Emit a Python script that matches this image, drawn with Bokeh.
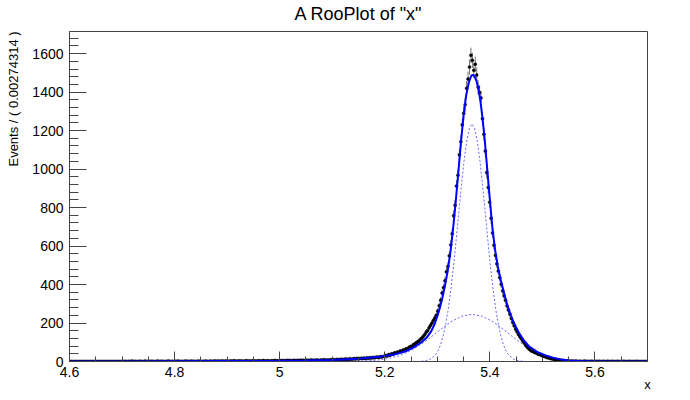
import numpy as np
from bokeh.plotting import figure
from bokeh.models import (Range1d, FixedTicker, SingleIntervalTicker, LinearAxis,
                          ColumnDataSource)
from bokeh.embed import file_html
from bokeh.resources import INLINE

# ---------------- data ----------------
x_low, x_high = 4.6, 5.7
bin_width = 0.00274314
y_max = 1715

counts = (
    [0] * 37
    + [0, 1, 0, 0, 1, 0, 2, 0, 1, 0, 0, 1, 1, 0, 0, 2, 0, 1, 0, 1,
       1, 0, 0, 1, 2, 0, 1, 1, 0, 0, 1, 2, 1, 0, 1, 0, 1, 1, 2, 0,
       1, 0, 1, 2, 1, 1, 0, 2, 1, 1, 0, 1, 2, 1, 0, 1, 1, 2, 1, 0,
       2, 1, 1, 2]
    + [2, 1, 3, 1, 2, 2, 1, 3, 2, 1, 3, 2, 2, 4, 1, 2, 3, 2, 3, 1,
       2, 4, 3, 2, 3, 2, 4, 3, 2, 3, 4, 3, 2, 5, 3, 3, 4, 2, 3, 4,
       3, 5, 4, 3, 4]
    + [4, 5, 3, 5, 4, 6, 4, 5, 3, 6, 5, 4, 6, 5, 7, 5, 6, 4, 7, 6,
       5, 8, 6, 7, 6, 8, 7, 5, 8, 7, 9, 7, 8, 6, 9, 8, 10]
    + [9, 8, 11, 9, 10, 12, 10, 11, 13, 12, 11, 14, 12, 13, 15, 13, 16, 14, 15, 17,
       16, 18, 15, 19, 17, 20, 18, 21, 19, 22, 24, 21, 25, 23, 26, 27]
    + [31, 29, 36, 33, 40, 38, 45, 43, 49, 48, 55, 53, 60, 59, 66, 65, 73, 78, 76, 87,
       91, 97, 102, 107, 116, 122, 131, 140, 153, 161, 176, 188, 200, 214, 226, 240]
    + [262, 290, 318, 356, 384, 420, 466, 494, 549, 606, 664, 758, 812, 912, 968, 1074,
       1142, 1230, 1290, 1335, 1420, 1468, 1530, 1591, 1565, 1513, 1545, 1489, 1425, 1398,
       1370, 1262, 1181, 1094, 982, 904, 828, 745, 668, 604, 552, 508, 470, 436, 402, 368]
    + [342, 318, 290, 268, 247, 224, 204, 186, 168, 155, 140, 128, 118, 106, 96, 84,
       76, 67, 61, 55, 53, 47, 45, 41, 37, 36, 31, 29, 26, 24, 20, 19, 16, 14, 13, 11,
       10, 8, 7, 7, 5, 5, 4, 3, 3]
    + [2, 1, 2, 1, 1, 2, 0, 1, 1, 0, 1, 2, 0, 1, 0, 1, 1, 0, 0, 1,
       0, 1, 0, 0, 1, 0, 0, 1, 0, 0, 1, 0, 0, 0, 1, 0, 0, 0, 1, 0,
       0, 0, 1, 0, 0, 0, 0, 1, 0, 0, 0, 0, 0, 0, 0]
)

total_x = [4.60, 4.70, 4.80, 4.90, 5.00, 5.05, 5.10, 5.15, 5.19, 5.22, 5.24, 5.256,
           5.27, 5.28, 5.288, 5.295, 5.30, 5.305, 5.31, 5.315, 5.32, 5.325, 5.33, 5.335,
           5.34, 5.345, 5.35, 5.355, 5.36, 5.364, 5.367, 5.37, 5.374, 5.378, 5.382,
           5.386, 5.39, 5.395, 5.40, 5.405, 5.41, 5.415, 5.421, 5.428, 5.434, 5.44,
           5.445, 5.455, 5.465, 5.475, 5.49, 5.505, 5.52, 5.535, 5.55, 5.57, 5.60,
           5.65, 5.70]
total_y = [0.3, 0.5, 1, 2, 3.5, 5, 8, 14, 25, 38, 53, 75,
           100, 125, 155, 195, 235, 280, 335, 400, 475, 570, 690, 830,
           985, 1140, 1280, 1385, 1450, 1482, 1490, 1486, 1462, 1420, 1355,
           1265, 1160, 1000, 840, 690, 580, 495, 420, 345, 285, 240,
           205, 150, 108, 78, 50, 33, 20, 11, 5, 2, 0.5,
           0.1, 0]

narrow_x = [4.60, 5.246, 5.256, 5.266, 5.276, 5.286, 5.296, 5.301, 5.306, 5.311, 5.316,
            5.321, 5.326, 5.331, 5.336, 5.341, 5.346, 5.351, 5.356, 5.361, 5.366,
            5.371, 5.376, 5.381, 5.386, 5.391, 5.396, 5.401, 5.406, 5.411, 5.416,
            5.421, 5.426, 5.431, 5.436, 5.446, 5.456, 5.466, 5.476, 5.486, 5.70]
narrow_y = [0, 0.03, 0.16, 0.75, 3.1, 10.9, 33, 54, 86, 132, 194,
            276, 378, 499, 635, 779, 918, 1045, 1147, 1212, 1235,
            1212, 1147, 1045, 918, 779, 635, 499, 378, 276, 194,
            132, 86, 54, 33, 10.9, 3.1, 0.75, 0.16, 0.03, 0]

wide_x = [4.60, 5.046, 5.086, 5.126, 5.166, 5.186, 5.206, 5.226, 5.246, 5.266, 5.286,
          5.306, 5.326, 5.346, 5.366, 5.386, 5.406, 5.426, 5.446, 5.466, 5.486, 5.506,
          5.526, 5.546, 5.566, 5.606, 5.646, 5.70]
wide_y = [0, 0.004, 0.05, 0.48, 3.2, 7.4, 15.4, 29, 52, 83, 123,
          166, 206, 235, 245, 235, 206, 166, 123, 83, 52, 29,
          15.4, 7.4, 3.2, 0.48, 0.05, 0]

x_ticks = [4.6, 4.8, 5.0, 5.2, 5.4, 5.6]
x_tick_labels = ["4.6", "4.8", "5", "5.2", "5.4", "5.6"]
title_text = 'A RooPlot of "x"'
y_title = "Events / ( 0.00274314 )"
x_title = "x"

# ---------------- derived ----------------
counts_arr = np.array(counts, dtype=float)
centers = x_low + bin_width * (np.arange(len(counts_arr)) + 0.5)
err = np.sqrt(counts_arr)
lo = counts_arr - err
hi = np.where(counts_arr > 0, counts_arr + err, 1.15)

data_src = ColumnDataSource(dict(x=centers, y=counts_arr, lo=lo, hi=hi))

W, H = 682, 394
ml, mt = 69, 31
mr, mb = W - 647, H - 362
FONT = "Liberation Sans"
AX = "#444444"

p = figure(width=W, height=H, output_backend="svg", toolbar_location=None,
           x_range=Range1d(x_low, x_high), y_range=Range1d(0, y_max),
           min_border_left=ml, min_border_right=mr, min_border_top=mt,
           min_border_bottom=mb, title=None)
p.background_fill_color = "white"
p.border_fill_color = "white"
p.outline_line_color = AX
p.outline_line_width = 1
p.xgrid.visible = False
p.ygrid.visible = False

# data
p.segment(x0="x", y0="lo", x1="x", y1="hi", source=data_src,
          line_color="black", line_width=1, line_alpha=0.55)
p.scatter(x="x", y="y", source=data_src, marker="circle", size=3,
          fill_color="black", line_color="black", line_width=0.5)

# components
p.line(narrow_x, narrow_y, line_color="#0000ff", line_width=1,
       line_dash="2 2", line_alpha=0.6)
p.line(wide_x, wide_y, line_color="#0000ff", line_width=1,
       line_dash="2 2", line_alpha=0.6)
# total
p.line(total_x, total_y, line_color="#0000ff", line_width=2)

# axes
minor_x = list(np.round(np.arange(x_low, x_high + 1e-9, 0.05), 3))
p.xaxis.ticker = FixedTicker(ticks=x_ticks, minor_ticks=minor_x)
p.xaxis.major_label_overrides = dict(zip(x_ticks, x_tick_labels))
p.yaxis.ticker = SingleIntervalTicker(interval=200, num_minor_ticks=5)

for ax in (p.xaxis[0], p.yaxis[0]):
    ax.axis_line_color = AX
    ax.major_tick_line_color = AX
    ax.minor_tick_line_color = AX
    ax.major_tick_out = 0
    ax.minor_tick_out = 0
    ax.major_label_text_font = FONT
    ax.major_label_text_font_size = "14px"
    ax.major_label_text_color = "black"

p.yaxis.major_tick_in = 17
p.yaxis.minor_tick_in = 9
p.yaxis.major_label_standoff = 6
p.xaxis.major_tick_in = 10
p.xaxis.minor_tick_in = 5
p.xaxis.major_label_standoff = 5


def label_axis(text, size, standoff, align=None):
    a = LinearAxis(ticker=FixedTicker(ticks=[]), axis_label=text,
                   axis_line_color=None, major_tick_line_color=None,
                   minor_tick_line_color=None, axis_label_standoff=standoff,
                   axis_label_text_font=FONT, axis_label_text_font_size=size,
                   axis_label_text_font_style="normal", axis_label_text_color="black")
    if align is not None:
        try:
            a.axis_label_align = align
        except Exception:
            pass
    return a


# y title: ROOT puts it flush with the top of the frame.  The label is centred on
# the frame by Bokeh, so lead it with no-break spaces (0.278 em each) to push the
# visible words up to the frame's top edge.
y_font_px = 13
frame_h = H - mt - mb
text_em = 10.395                      # width of y_title in em (Liberation Sans)
pad_px = frame_h - text_em * y_font_px
n_pad = max(0, int(round(pad_px / (0.278 * y_font_px))))
y_title_padded = "\u00a0" * n_pad + y_title

p.add_layout(label_axis(title_text, "18px", 8), "above")
p.add_layout(label_axis(y_title_padded, f"{y_font_px}px", 9), "left")
p.add_layout(label_axis(x_title, "13px", -3, align="end"), "below")

open("out.html", "w").write(file_html(p, INLINE))
